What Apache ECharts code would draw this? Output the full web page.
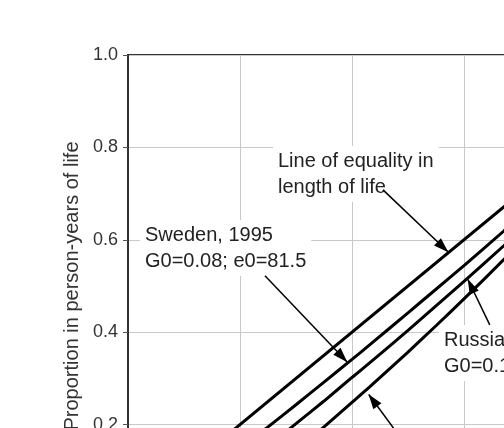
<!DOCTYPE html>
<html>
<head>
<meta charset="utf-8">
<script src="https://cdn.jsdelivr.net/npm/echarts@6/dist/echarts.min.js"></script>
<style>
  html, body { margin: 0; padding: 0; background: #fff; }
  #main { width: 504px; height: 428px; }
</style>
</head>
<body>
<div id="main"></div>
<script>
// Lorenz curves: cumulative proportion of deaths (x) vs person-years of life (y)
var equality = [[0, 0], [1, 1]];
var sweden = [[0, 0], [0.1, 0.04], [0.2, 0.148], [0.25, 0.195], [0.3, 0.243], [0.35, 0.292], [0.4, 0.341],
  [0.432, 0.373], [0.5, 0.442], [0.55, 0.493], [0.6, 0.544], [0.671, 0.619], [0.75, 0.704], [0.85, 0.82], [0.95, 0.94], [1, 1]];
var russia = [[0, 0], [0.1, 0.03], [0.2, 0.106], [0.25, 0.153], [0.3, 0.202], [0.35, 0.251], [0.4, 0.302],
  [0.432, 0.334], [0.5, 0.404], [0.55, 0.457], [0.6, 0.51], [0.671, 0.587], [0.75, 0.675], [0.85, 0.79], [0.95, 0.92], [1, 1]];
var lowest = [[0, 0], [0.1, 0.01], [0.2, 0.045], [0.25, 0.092], [0.3, 0.143], [0.35, 0.195], [0.4, 0.248],
  [0.432, 0.282], [0.5, 0.357], [0.55, 0.414], [0.6, 0.472], [0.671, 0.557], [0.75, 0.655], [0.85, 0.78], [0.95, 0.915], [1, 1]];

// annotation arrows [from, to] in data units
var arrows = [
  [[0.4554, 0.708], [0.5714, 0.574]],
  [[0.2446, 0.522], [0.391, 0.336]],
  [[0.646, 0.416], [0.607, 0.514]],
  [[0.489, 0.168], [0.430, 0.265]]
];

var notes = [
  { text: 'Line of equality in\nlength of life', x: 273, y: 146 },
  { text: 'Sweden, 1995\nG0=0.08; e0=81.5', x: 140, y: 220 },
  { text: 'Russia, 1995\nG0=0.13; e0=71.7', x: 439, y: 325 }
];

var font = 'Liberation Sans, Arial, sans-serif';
var chart = echarts.init(document.getElementById('main'));

function curve(name, data, withArrows) {
  var s = {
    name: name,
    type: 'line',
    data: data,
    showSymbol: false,
    smooth: 0.2,
    lineStyle: { color: '#000', width: 3 },
    z: 3,
    silent: true
  };
  if (withArrows) {
    s.markLine = {
      silent: true,
      symbol: ['none', 'triangle'],
      symbolSize: [10, 15],
      symbolOffset: [[0, 0], [0, 7]],
      label: { show: false },
      lineStyle: { color: '#000', width: 1.5, type: 'solid' },
      data: arrows.map(function (a) {
        return [{ coord: a[0] }, { coord: a[1] }];
      })
    };
  }
  return s;
}

chart.setOption({
  animation: false,
  grid: {
    left: 128, top: 55, width: 560, height: 462,
    show: true, borderColor: '#333', borderWidth: 2,
    containLabel: false, outerBoundsMode: 'none'
  },
  xAxis: {
    type: 'value', min: 0, max: 1, interval: 0.2,
    axisLine: { show: false },
    axisTick: { show: false },
    axisLabel: { show: false },
    splitLine: { lineStyle: { color: '#c8c8c8', width: 1 } }
  },
  yAxis: {
    type: 'value', min: 0, max: 1, interval: 0.2,
    name: 'Proportion in person-years of life',
    nameLocation: 'middle',
    nameGap: 46,
    nameTextStyle: { fontFamily: font, fontSize: 20, color: '#333' },
    axisLine: { show: true, lineStyle: { color: '#333', width: 2 } },
    axisTick: { show: true, length: 5, lineStyle: { color: '#555' } },
    axisLabel: {
      margin: 10, fontFamily: font, fontSize: 18, color: '#333',
      formatter: function (v) { return v.toFixed(1); }
    },
    splitLine: { lineStyle: { color: '#c8c8c8', width: 1 } }
  },
  graphic: notes.map(function (n) {
    return {
      type: 'text', left: n.x, top: n.y, z: 1,
      style: {
        text: n.text, font: '20px ' + font, fill: '#222',
        lineHeight: 26, backgroundColor: '#fff', padding: [2, 5]
      }
    };
  }),
  series: [
    curve('Line of equality', equality, true),
    curve('Sweden', sweden, false),
    curve('Russia', russia, false),
    curve('Lowest', lowest, false)
  ]
});
</script>
</body>
</html>
